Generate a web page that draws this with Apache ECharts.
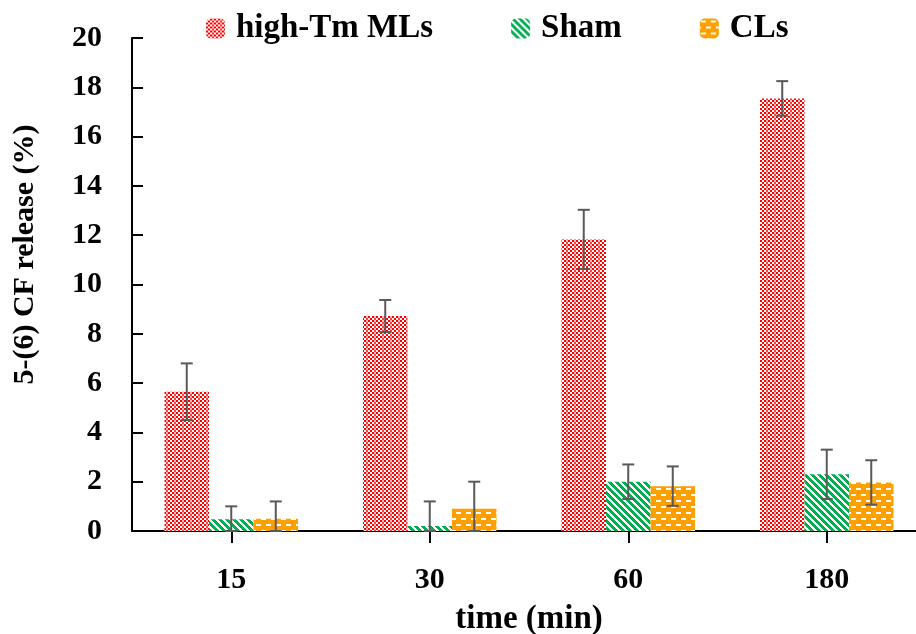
<!DOCTYPE html>
<html>
<head>
<meta charset="utf-8">
<title>5-(6) CF release</title>
<script src="https://cdn.jsdelivr.net/npm/echarts@6/dist/echarts.min.js"></script>
<style>
  html, body { margin: 0; padding: 0; background: #fff; }
  #chart { width: 916px; height: 634px; }
</style>
</head>
<body>
<div id="chart"></div>
<script>
// time points (min)
const categories = ['15', '30', '60', '180'];
// mean release (%) and error bars
const highTm = [5.65, 8.72, 11.83, 17.55];
const highTmErr = [1.15, 0.65, 1.2, 0.7];
const sham = [0.48, 0.2, 2.0, 2.3];
const shamErr = [0.52, 1.0, 0.7, 1.0];
const cls = [0.5, 0.9, 1.82, 1.97];
const clsErr = [0.7, 1.1, 0.8, 0.9];

const FONT = '"Liberation Serif", "DejaVu Serif", serif';
const BAR_W = 44.5;

function makeTile(w, h, draw) {
  const c = document.createElement('canvas');
  c.width = w;
  c.height = h;
  draw(c.getContext('2d'));
  return c;
}

// red / white checker, with a faint pink band like the original hatch
const redTile = makeTile(8, 8, (ctx) => {
  ctx.fillStyle = '#ffffff';
  ctx.fillRect(0, 0, 8, 8);
  ctx.fillStyle = '#ff0000';
  for (let y = 0; y < 8; y += 2) {
    for (let x = 0; x < 8; x += 2) {
      if ((x + y) % 4 === 0) ctx.fillRect(x, y, 2, 2);
    }
  }
  ctx.fillStyle = 'rgba(255, 120, 120, 0.5)';
  ctx.fillRect(6, 0, 2, 8);
});

// green diagonal stripes (\ direction)
const greenTile = makeTile(7, 7, (ctx) => {
  ctx.fillStyle = '#ffffff';
  ctx.fillRect(0, 0, 7, 7);
  ctx.fillStyle = '#00b050';
  for (let y = 0; y < 7; y++) {
    for (let x = 0; x < 7; x++) {
      if (((x - y) % 7 + 7) % 7 < 4) ctx.fillRect(x, y, 1, 1);
    }
  }
});

// orange with white brick dashes
const orangeTile = makeTile(10, 12, (ctx) => {
  ctx.fillStyle = '#ffa000';
  ctx.fillRect(0, 0, 10, 12);
  ctx.fillStyle = '#ffffff';
  ctx.fillRect(1, 2, 5, 2);
  ctx.fillRect(6, 8, 4, 2);
  ctx.fillRect(0, 8, 1, 2);
});

const redFill = { image: redTile, repeat: 'repeat' };
const greenFill = { image: greenTile, repeat: 'repeat' };
const orangeFill = { image: orangeTile, repeat: 'repeat' };

// rows for the error bar layer: [category, value, error, series slot]
const errRows = [];
[[highTm, highTmErr], [sham, shamErr], [cls, clsErr]].forEach((pair, s) => {
  pair[0].forEach((v, i) => {
    errRows.push([i, v, pair[1][i], s]);
  });
});

const chart = echarts.init(document.getElementById('chart'));

const option = {
  animation: false,
  backgroundColor: '#ffffff',
  textStyle: { fontFamily: FONT },
  legend: {
    data: ['high-Tm MLs', 'Sham', 'CLs'],
    left: 201,
    top: 7,
    itemWidth: 19,
    itemHeight: 20,
    itemGap: 78,
    textStyle: {
      fontFamily: FONT,
      fontWeight: 'bold',
      fontSize: 33,
      color: '#000',
      padding: [0, 0, 0, 6]
    }
  },
  grid: {
    left: 132,
    right: -10,
    top: 38,
    bottom: 103,
    outerBoundsMode: 'none'
  },
  xAxis: {
    type: 'category',
    data: categories,
    name: 'time (min)',
    nameLocation: 'middle',
    nameGap: 72,
    nameTextStyle: {
      fontFamily: FONT,
      fontWeight: 'bold',
      fontSize: 33,
      color: '#000'
    },
    axisLine: { lineStyle: { color: '#000', width: 2 } },
    axisTick: {
      show: true,
      alignWithLabel: true,
      length: 12,
      lineStyle: { color: '#000', width: 2 }
    },
    axisLabel: {
      margin: 34,
      fontFamily: FONT,
      fontWeight: 'bold',
      fontSize: 30,
      color: '#000'
    }
  },
  yAxis: {
    type: 'value',
    min: 0,
    max: 20,
    interval: 2,
    name: '5-(6) CF release (%)',
    nameLocation: 'middle',
    nameRotate: 90,
    nameGap: 92,
    nameTextStyle: {
      fontFamily: FONT,
      fontWeight: 'bold',
      fontSize: 30,
      color: '#000',
      padding: [0, 0, 0, 60]
    },
    splitLine: { show: false },
    axisLine: { show: true, lineStyle: { color: '#000', width: 2 } },
    axisTick: {
      show: true,
      inside: true,
      length: 11,
      lineStyle: { color: '#000', width: 2 }
    },
    axisLabel: {
      margin: 30,
      fontFamily: FONT,
      fontWeight: 'bold',
      fontSize: 30,
      color: '#000'
    }
  },
  series: [
    {
      name: 'high-Tm MLs',
      type: 'bar',
      data: highTm,
      barWidth: BAR_W,
      barGap: '0%',
      itemStyle: { color: redFill }
    },
    {
      name: 'Sham',
      type: 'bar',
      data: sham,
      barWidth: BAR_W,
      barGap: '0%',
      itemStyle: { color: greenFill }
    },
    {
      name: 'CLs',
      type: 'bar',
      data: cls,
      barWidth: BAR_W,
      barGap: '0%',
      itemStyle: { color: orangeFill }
    },
    {
      name: 'error',
      type: 'custom',
      z: 10,
      silent: true,
      data: errRows,
      encode: { x: 0, y: 1 },
      renderItem: function (params, api) {
        const ci = api.value(0);
        const v = api.value(1);
        const e = api.value(2);
        const s = api.value(3);
        const top = api.coord([ci, v + e]);
        const bot = api.coord([ci, Math.max(0, v - e)]);
        const x = top[0] + (s - 1) * BAR_W;
        const half = 6;
        const style = { stroke: '#595959', lineWidth: 2 };
        return {
          type: 'group',
          children: [
            { type: 'line', shape: { x1: x, y1: top[1], x2: x, y2: bot[1] }, style: style },
            { type: 'line', shape: { x1: x - half, y1: top[1], x2: x + half, y2: top[1] }, style: style },
            { type: 'line', shape: { x1: x - half, y1: bot[1], x2: x + half, y2: bot[1] }, style: style }
          ]
        };
      }
    }
  ]
};

chart.setOption(option);

window.addEventListener('resize', () => {
  chart.resize();
});
</script>
</body>
</html>
